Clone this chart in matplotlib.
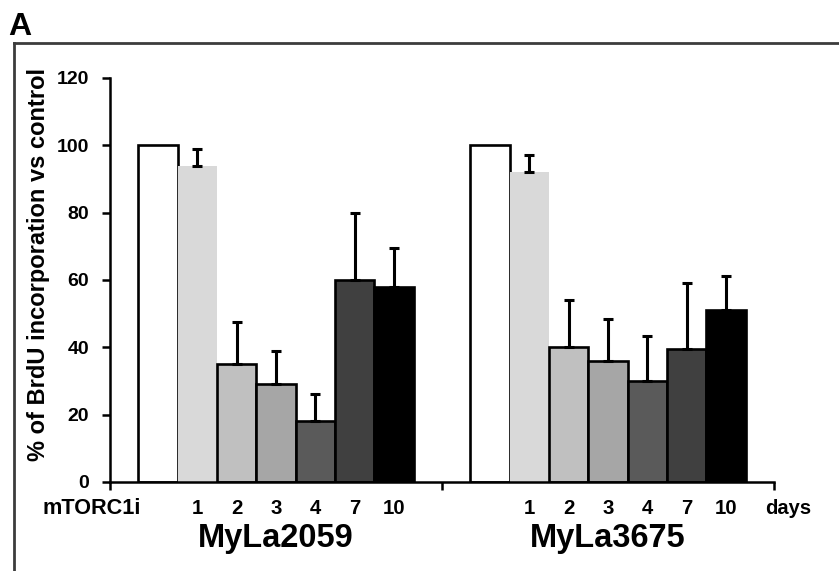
import matplotlib
matplotlib.use("Agg")
import matplotlib.pyplot as plt
from matplotlib.lines import Line2D
import matplotlib.transforms as mtransforms

plt.rcParams['font.family'] = ['Liberation Sans', 'DejaVu Sans']
plt.rcParams['font.weight'] = 'bold'

groups = ["MyLa2059", "MyLa3675"]
day_labels = ["", "1", "2", "3", "4", "7", "10"]
myla2059 = [100, 94, 35, 29, 18, 60, 58]
myla2059_err = [0, 5, 12.5, 10, 8, 20, 11.6]
myla3675 = [100, 92, 40, 36, 30, 39.4, 51.2]
myla3675_err = [0, 5, 14, 12.5, 13.5, 19.8, 10]
colors = ["#ffffff", "#d9d9d9", "#c0c0c0", "#a6a6a6", "#5a5a5a", "#404040", "#000000"]
y_ticks = [0, 20, 40, 60, 80, 100, 120]

W, H = 839, 571
fig = plt.figure(figsize=(W / 100, H / 100), dpi=100)

def fx(px):
    return px / W

def fy(py):
    return 1 - py / H

ax_l, ax_r, ax_t, ax_b = 110, 774, 78, 482
ax = fig.add_axes([fx(ax_l), fy(ax_b), fx(ax_r - ax_l), (ax_b - ax_t) / H])
blend = mtransforms.blended_transform_factory(ax.transData, fig.transFigure)

label_y = fy(508)
group_y = fy(539)

bw = 0.1184
series = [(myla2059, myla2059_err), (myla3675, myla3675_err)]
for g, (vals, errs) in enumerate(series):
    for i, (v, e) in enumerate(zip(vals, errs)):
        x = g + 0.5 + (i - 3) * bw
        ec = "none" if i == 1 else "black"
        ax.bar(x, v, width=bw, color=colors[i], edgecolor=ec, linewidth=1.9, zorder=2)
        if e > 0:
            ax.errorbar(x, v, yerr=[[0], [e]], fmt="none", ecolor="black",
                        elinewidth=2.2, capsize=3.6, capthick=2.2, zorder=3)
        if day_labels[i]:
            ax.text(x, label_y, day_labels[i], transform=blend,
                    ha="center", va="center", fontsize=14.7, fontweight="bold")
    ax.text(g + 0.5, group_y, groups[g], transform=blend,
            ha="center", va="center", fontsize=23.5, fontweight="bold")

fig.text(fx(91.5), label_y, "mTORC1i", ha="center", va="center",
         fontsize=15.6, fontweight="bold")
fig.text(fx(765), label_y, "days", ha="left", va="center",
         fontsize=14.5, fontweight="bold")

ax.set_xlim(0, 2)
ax.set_ylim(0, 120)
ax.set_yticks(y_ticks)
ax.set_yticklabels([str(t) for t in y_ticks], fontsize=14, fontweight="bold")
ax.set_xticks([0, 1, 2])
ax.set_xticklabels([])
ax.tick_params(axis="both", direction="out", width=1.8, length=6)
ax.tick_params(axis="y", pad=9)
for s in ["top", "right"]:
    ax.spines[s].set_visible(False)
for s in ["left", "bottom"]:
    ax.spines[s].set_linewidth(1.8)

fig.text(fx(39), fy(265), "% of BrdU incorporation vs control", rotation=90,
         ha="center", va="center", fontsize=17, fontweight="bold")

# outer frame
fig.add_artist(Line2D([fx(14), 1], [fy(43), fy(43)], color="#3c3c3c", linewidth=2))
fig.add_artist(Line2D([fx(14), fx(14)], [fy(43), 0], color="#3c3c3c", linewidth=2))
fig.text(fx(8), fy(35), "A", fontsize=23, fontweight="bold", ha="left", va="baseline")

fig.savefig("out.png", dpi=100)
